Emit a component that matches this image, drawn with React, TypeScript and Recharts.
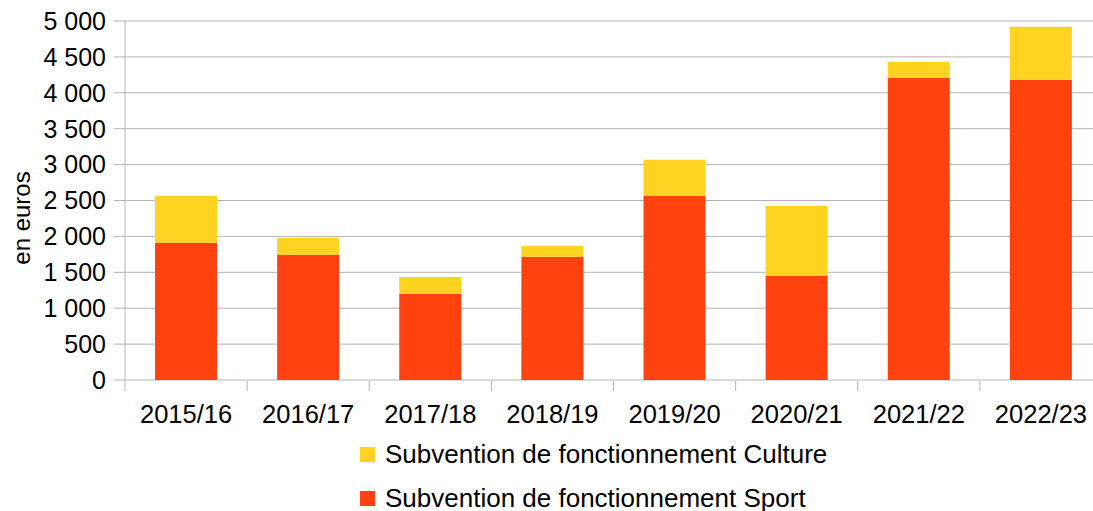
import React from 'react';
import { BarChart, Bar, XAxis, YAxis, CartesianGrid } from 'recharts';

const years = ['2015/16', '2016/17', '2017/18', '2018/19', '2019/20', '2020/21', '2021/22', '2022/23'];
const sport = [1910, 1743, 1199, 1715, 2565, 1450, 4210, 4182];
const culture = [655, 237, 237, 153, 502, 976, 223, 739];
const yTicks = [0, 500, 1000, 1500, 2000, 2500, 3000, 3500, 4000, 4500, 5000];
const edgeTicks = [0, 1, 2, 3, 4, 5, 6, 7, 8];

const SPORT_COLOR = '#FF420E';
const CULTURE_COLOR = '#FFD320';
const GRID = '#b3b3b3';
const FONT = '"Liberation Sans", Arial, sans-serif';

const legendItems = [
    { name: 'Subvention de fonctionnement Culture', color: CULTURE_COLOR },
    { name: 'Subvention de fonctionnement Sport', color: SPORT_COLOR },
];

// mid = centre of each category slot, used by the boundary-tick axis
const data = years.map((year, i) => ({ year, mid: i + 0.5, sport: sport[i], culture: culture[i] }));

const fmt = (v: number) => (v >= 1000 ? `${Math.floor(v / 1000)} ${String(v % 1000).padStart(3, '0')}` : String(v));

const YLabel = () => (
    <text x={21} y={218} transform="rotate(-90 21 218)" textAnchor="middle" dominantBaseline="central"
        fontSize={24} fill="#000" fontFamily={FONT}>
        en euros
    </text>
);

const NoLabel = () => <g />;

export default function App() {
    return (
        <div style={{ position: 'absolute', left: 0, top: 0, width: 1093, height: 511, overflow: 'hidden', background: '#fff', fontFamily: FONT }}>
            <BarChart width={1110} height={511} data={data} margin={{ top: 21, right: 8, bottom: 120, left: 0 }}>
                <CartesianGrid vertical={false} stroke={GRID} />
                {/* category labels, drawn from the plot bottom */}
                <XAxis xAxisId="cat" dataKey="year" axisLine={false} tickLine={false} tickSize={0} tickMargin={25}
                    height={1} interval={0} tick={{ fill: '#000', fontSize: 25.5, fontFamily: FONT }} />
                {/* boundary tick marks between categories */}
                <XAxis xAxisId="edges" dataKey="mid" type="number" domain={[0, 8]} ticks={edgeTicks} tick={<NoLabel />}
                    axisLine={false} tickLine={{ stroke: GRID }} tickSize={10} height={10} stroke={GRID} allowDataOverflow />
                <YAxis domain={[0, 5000]} ticks={yTicks} width={125} tickSize={11} tickMargin={8} stroke={GRID}
                    tickFormatter={fmt} tick={{ fill: '#000', fontSize: 25, fontFamily: FONT }}
                    label={{ content: <YLabel /> }} />
                <Bar xAxisId="cat" dataKey="sport" stackId="a" fill={SPORT_COLOR} barSize={62} isAnimationActive={false} />
                <Bar xAxisId="cat" dataKey="culture" stackId="a" fill={CULTURE_COLOR} barSize={62} isAnimationActive={false} />
            </BarChart>
            {legendItems.map((item, i) => (
                <div key={item.name} style={{ position: 'absolute', left: 360, top: 440 + i * 44, display: 'flex', alignItems: 'center', fontSize: 26, lineHeight: '28px', color: '#000', whiteSpace: 'nowrap' }}>
                    <span style={{ display: 'inline-block', width: 15, height: 15, background: item.color, marginRight: 10 }} />
                    <span>{item.name}</span>
                </div>
            ))}
        </div>
    );
}
